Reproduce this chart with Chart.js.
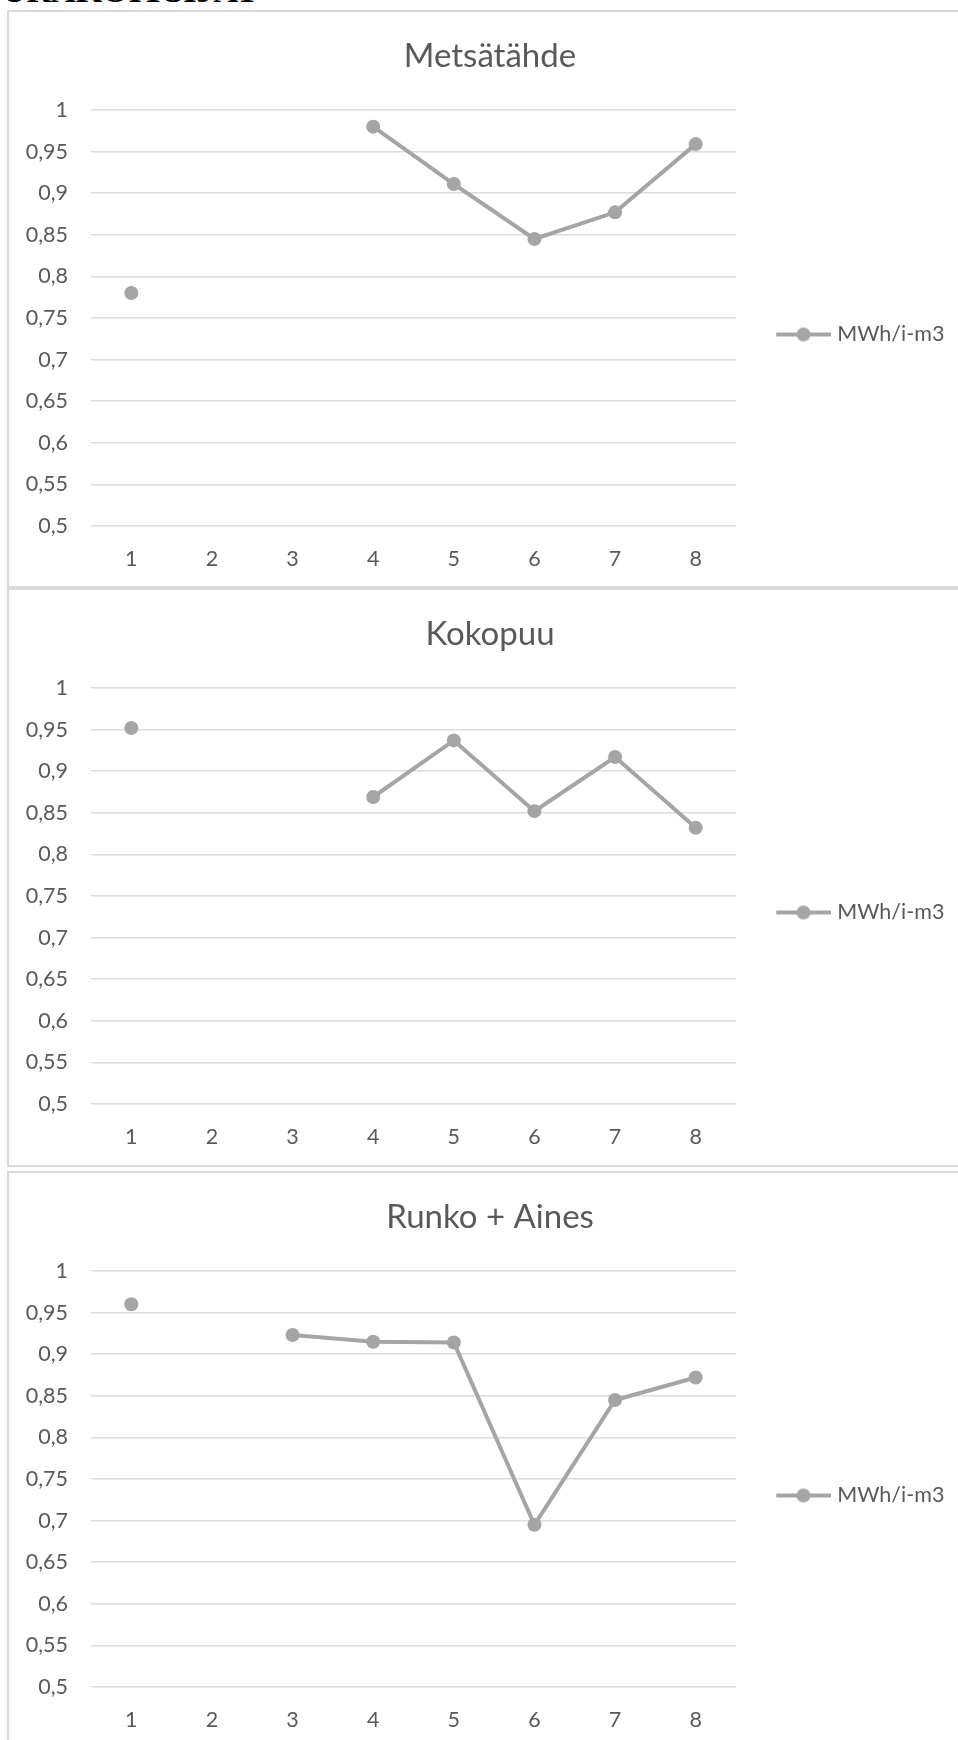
<!DOCTYPE html>
<html>
<head>
<meta charset="utf-8">
<script src="https://cdn.jsdelivr.net/npm/chart.js@4/dist/chart.umd.min.js"></script>
<style>
  html, body { margin: 0; padding: 0; background: #ffffff; }
  body { width: 958px; height: 1740px; overflow: hidden; position: relative; }
  .heading {
    position: absolute; left: 2px; top: -26px;
    font-family: "Liberation Serif", "DejaVu Serif", serif;
    font-weight: bold; font-size: 34px; line-height: 34px; color: #000;
    white-space: nowrap;
  }
  .panel {
    position: absolute; left: 7px; width: 1000px;
    border: 2px solid #d9d9d9; background: #fff; overflow: hidden;
  }
  .panel canvas { display: block; }
</style>
</head>
<body>
<div class="heading">URAKOITSIJAT</div>
<div class="panel" style="top:10px;height:574px;"><canvas id="c1" width="962" height="574"></canvas></div>
<div class="panel" style="top:588px;height:575px;"><canvas id="c2" width="962" height="574"></canvas></div>
<div class="panel" style="top:1171px;height:600px;"><canvas id="c3" width="962" height="574"></canvas></div>
<script>
// Hakkuukerrat 1–8
const categories = ['1', '2', '3', '4', '5', '6', '7', '8'];

// Energiasisältö, MWh / kiintokuutiometri
const metsatahde = [0.78, null, null, 0.98, 0.911, 0.845, 0.877, 0.959];
const kokopuu    = [0.952, null, null, 0.869, 0.937, 0.852, 0.917, 0.832];
const runkoAines = [0.96, null, 0.923, 0.915, 0.914, 0.695, 0.845, 0.872];

const seriesLabel = 'MWh/i-m3';
const yTickLabels = ['0,5', '0,55', '0,6', '0,65', '0,7', '0,75', '0,8', '0,85', '0,9', '0,95', '1'];

const lineColor = '#a5a5a5';
const textColor = '#595959';
const gridColor = '#dcdcdc';
const fontFamily = 'Lato, "Open Sans", sans-serif';
const legendBoxWidth = 235;

// Legend symbol: a short line with a dot in the middle
function makeLegendIcon() {
  const c = document.createElement('canvas');
  c.width = 67; c.height = 20;
  const g = c.getContext('2d');
  g.strokeStyle = lineColor; g.lineWidth = 4;
  g.beginPath(); g.moveTo(12, 10); g.lineTo(67, 10); g.stroke();
  g.fillStyle = lineColor;
  g.beginPath(); g.arc(39.25, 10, 7, 0, Math.PI * 2); g.fill();
  return c;
}
const legendIcon = makeLegendIcon();

// Keeps the legend column at a fixed width so the plot area ends at the same x in every panel
const fixedLegendWidth = {
  id: 'fixedLegendWidth',
  beforeLayout(chart) {
    const lg = chart.legend;
    if (lg && !lg._fixedWidth) {
      const fit = lg.fit.bind(lg);
      lg.fit = function () { fit(); this.width = legendBoxWidth; };
      lg._fixedWidth = true;
    }
  }
};

function drawPanel(id, title, values) {
  new Chart(document.getElementById(id), {
    type: 'line',
    data: {
      labels: categories,
      datasets: [{
        label: seriesLabel,
        data: values,
        borderColor: lineColor,
        backgroundColor: lineColor,
        borderWidth: 4,
        pointRadius: 7,
        pointHoverRadius: 7,
        pointBackgroundColor: lineColor,
        pointBorderWidth: 0,
        tension: 0,
        spanGaps: false,
        clip: false
      }]
    },
    plugins: [fixedLegendWidth],
    options: {
      responsive: false,
      animation: false,
      devicePixelRatio: 1,
      layout: { padding: { left: 0, right: 0, top: 0, bottom: 0 } },
      plugins: {
        title: {
          display: true,
          text: title,
          color: textColor,
          font: { family: fontFamily, size: 33, weight: 'normal', lineHeight: 1.2 },
          padding: { top: 24.6, bottom: 33.8 }
        },
        legend: {
          display: true,
          position: 'right',
          fullSize: false,
          title: { display: true, text: '', padding: 0, font: { size: 33, lineHeight: 1 } },
          labels: {
            usePointStyle: true,
            pointStyleWidth: 57.5,
            padding: 33,
            color: textColor,
            font: { family: fontFamily, size: 21.5 },
            generateLabels(chart) {
              const items = Chart.defaults.plugins.legend.labels.generateLabels(chart);
              items.forEach(it => { it.pointStyle = legendIcon; it.fontColor = textColor; });
              return items;
            }
          }
        },
        tooltip: { enabled: false }
      },
      scales: {
        x: {
          offset: true,
          grid: { display: false, drawTicks: false },
          border: { display: false },
          ticks: { color: textColor, padding: 19.7, font: { family: fontFamily, size: 21.5 }, maxRotation: 0 },
          afterFit(scale) { scale.height = 60; }
        },
        y: {
          min: 0.5,
          max: 1,
          ticks: {
            stepSize: 0.05,
            color: textColor,
            padding: 23,
            font: { family: fontFamily, size: 21.5 },
            callback(value) {
              const i = Math.round((value - 0.5) / 0.05);
              return yTickLabels[i];
            }
          },
          grid: { color: gridColor, lineWidth: 1.5, drawTicks: false },
          border: { display: false },
          afterFit(scale) { scale.width = 82; }
        }
      }
    }
  });
}

drawPanel('c1', 'Metsätähde', metsatahde);
drawPanel('c2', 'Kokopuu', kokopuu);
drawPanel('c3', 'Runko + Aines', runkoAines);
</script>
</body>
</html>
